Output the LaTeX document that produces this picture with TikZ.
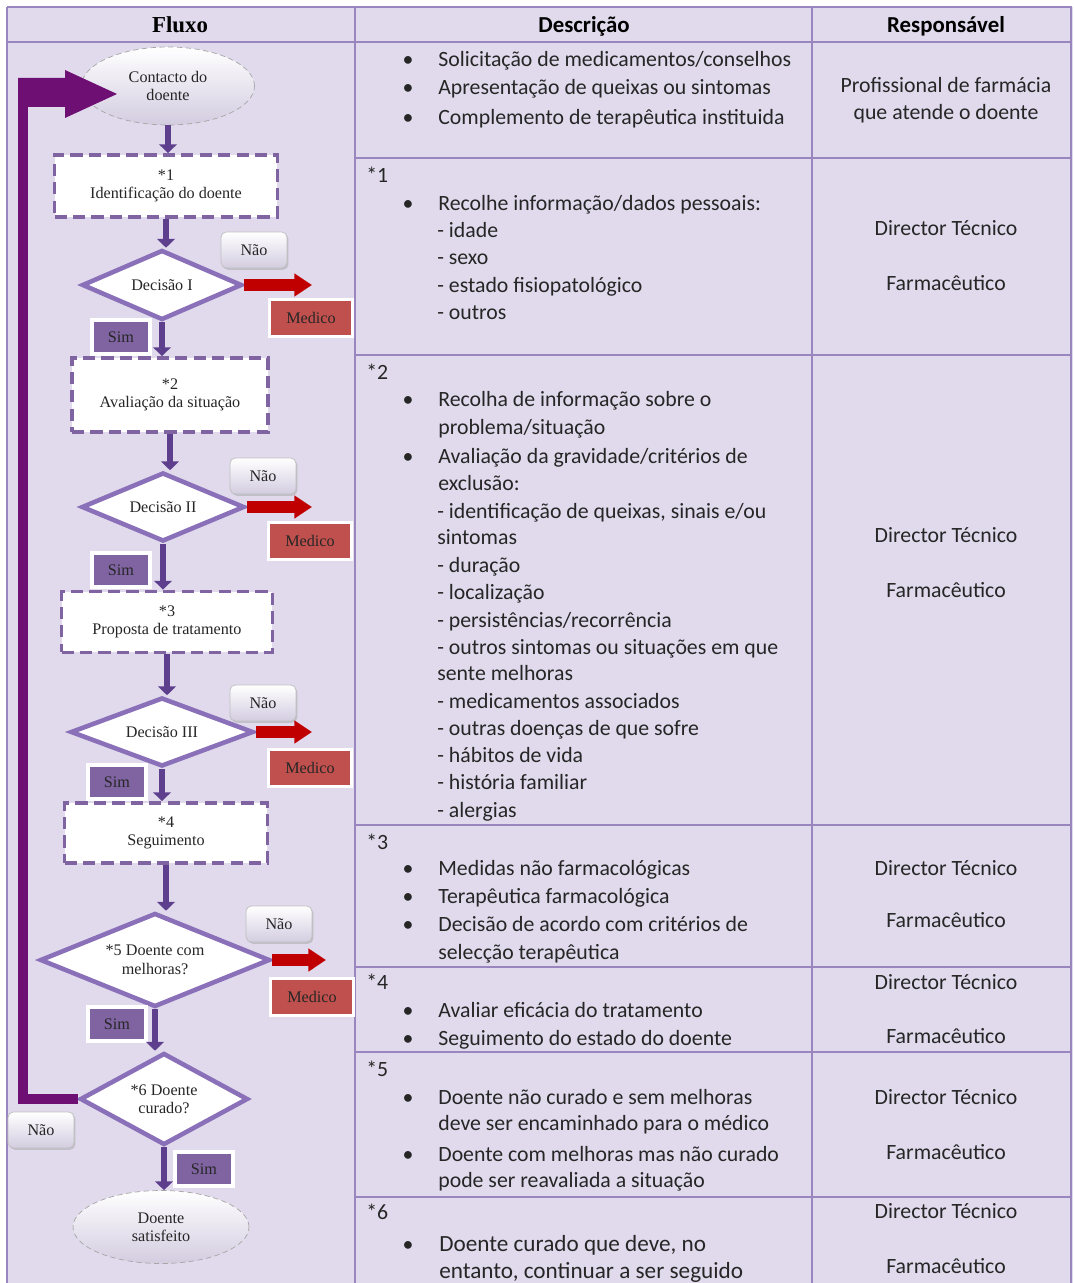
\documentclass[tikz,border=0pt]{standalone}
\usepackage{fontspec}
\setmainfont{Liberation Serif}
\newfontfamily\calib{Carlito}
\usetikzlibrary{shapes.geometric,arrows.meta,shadows}

\definecolor{tablebg}{HTML}{E0DAEC}
\definecolor{gridline}{HTML}{9A86BF}
\definecolor{flowline}{HTML}{8A70B8}
\definecolor{boxline}{HTML}{8064A2}
\definecolor{arrowpurple}{HTML}{5E3F8E}
\definecolor{loopcol}{HTML}{6E0F73}
\definecolor{redarrow}{HTML}{C00000}
\definecolor{medred}{HTML}{C0504D}
\definecolor{simfill}{HTML}{8064A2}
\definecolor{shadebot}{HTML}{D3CCE0}

\begin{document}
\begin{tikzpicture}[x=0.02cm, y=-0.02cm,
    flowtxt/.style={font=\fontsize{9.2}{10.5}\selectfont, align=center, text=black!85},
    desctxt/.style={font=\calib\fontsize{12.4}{14}\selectfont, text=black!85, inner sep=0pt, yshift=-1.2pt},
    startend/.style={ellipse, flowtxt, draw=gray!70, densely dashed, thin, top color=white, bottom color=shadebot},
    stepbox/.style={rectangle, flowtxt, draw=boxline, fill=white, line width=2.2pt, dash pattern=on 7pt off 3.5pt},
    decision/.style={diamond, flowtxt, draw=flowline, fill=white, line width=2.6pt, aspect=2.3, inner sep=1pt},
    naobox/.style={rectangle, flowtxt, rounded corners=3pt, draw=gray!50, top color=white, bottom color=shadebot,
        minimum width=1.32cm, minimum height=0.72cm, drop shadow={shadow xshift=0.8pt, shadow yshift=-1pt, fill=gray!70}},
    simbox/.style={rectangle, flowtxt, fill=simfill, draw=white, line width=2pt,
        minimum width=1.16cm, minimum height=0.68cm, drop shadow={shadow xshift=0.8pt, shadow yshift=-1pt, fill=gray!70}},
    medbox/.style={rectangle, flowtxt, fill=medred, draw=white, line width=2pt,
        minimum width=1.66cm, minimum height=0.74cm, drop shadow={shadow xshift=0.8pt, shadow yshift=-1pt, fill=gray!70}},
    flowarrow/.style={draw=arrowpurple, line width=3.4pt, -{Triangle[length=5pt,width=10pt]}},
    redout/.style={draw=redarrow, line width=6.8pt, -{Triangle[length=10pt,width=12.5pt]}},
    grid/.style={draw=gridline, line width=1.6pt}]
    \useasboundingbox (0,0) rectangle (1073,1283);
    \fill[tablebg] (7,7) rectangle (1073,1283);

    % table
    \draw[grid] (7,7) -- (1071,7) -- (1071,1283);
    \draw[grid] (7,42) -- (1071,42);
    \draw[grid] (7,7) -- (7,1283);
    \draw[grid] (355,7) -- (355,1283);
    \draw[grid] (812,7) -- (812,1283);
    \foreach \y in {158,355,825,967,1052,1197}
        \draw[grid] (355,\y) -- (1071,\y);

    \node[font=\fontsize{13}{15}\selectfont\bfseries] (hflux) at (180,25) {Fluxo};
    \node[font=\calib\fontsize{13}{15}\selectfont\bfseries] (hdesc) at (584,26) {Descrição};
    \node[font=\calib\fontsize{13}{15}\selectfont\bfseries] (hresp) at (946,26) {Responsável};

    \foreach \x/\y/\t in {
        438/60/{Solicitação de medicamentos/conselhos},
        438/88/{Apresentação de queixas ou sintomas},
        438/118/{Complemento de terapêutica instituida},
        366/176/{*1},
        438/204/{Recolhe informação/dados pessoais:},
        437/231/{- idade}, 437/258/{- sexo},
        437/286/{- estado fisiopatológico}, 437/313/{- outros},
        366/373/{*2},
        438/400/{Recolha de informação sobre o},
        438/428/{problema/situação},
        438/457/{Avaliação da gravidade/critérios de},
        438/484/{exclusão:},
        437/512/{- identificação de queixas, sinais e/ou},
        437/538/{sintomas},
        437/566/{- duração}, 437/593/{- localização},
        437/621/{- persistências/recorrência},
        437/648/{- outros sintomas ou situações em que},
        437/674/{sente melhoras},
        437/702/{- medicamentos associados},
        437/729/{- outras doenças de que sofre},
        437/756/{- hábitos de vida}, 437/783/{- história familiar},
        437/811/{- alergias},
        366/843/{*3},
        438/869/{Medidas não farmacológicas},
        438/897/{Terapêutica farmacológica},
        438/925/{Decisão de acordo com critérios de},
        438/953/{selecção terapêutica},
        366/983/{*4},
        438/1011/{Avaliar eficácia do tratamento},
        438/1039/{Seguimento do estado do doente},
        366/1070/{*5},
        438/1098/{Doente não curado e sem melhoras},
        438/1124/{deve ser encaminhado para o médico},
        438/1155/{Doente com melhoras mas não curado},
        438/1181/{pode ser reavaliada a situação},
        366/1213/{*6}}
        \node[desctxt, anchor=mid west] (dsc-\y) at (\x,\y) {\t};
    \node[desctxt, font=\calib\fontsize{13.2}{15}\selectfont, anchor=mid west] (dsc-1245) at (439,1245) {Doente curado que deve, no};
    \node[desctxt, font=\calib\fontsize{13.2}{15}\selectfont, anchor=mid west] (dsc-1272) at (439,1272) {entanto, continuar a ser seguido};

    \foreach \y in {60,88,118,204,400,457,869,897,925,1011,1039,1098,1155,1245}
        \node[desctxt, anchor=mid] (bul-\y) at (408,\y) {\textbullet};

    \foreach \y/\t in {86/{Profissional de farmácia}, 113/{que atende o doente},
        229/{Director Técnico}, 284/Farmacêutico,
        536/{Director Técnico}, 591/Farmacêutico,
        869/{Director Técnico}, 921/Farmacêutico,
        983/{Director Técnico}, 1037/Farmacêutico,
        1098/{Director Técnico}, 1153/Farmacêutico,
        1212/{Director Técnico}, 1267/Farmacêutico}
        \node[desctxt, anchor=mid] (rsp-\y) at (946,\y) {\t};

    % flow
    \node[startend, minimum width=3.46cm, minimum height=1.56cm] (contact) at (168,86) {Contacto do\\doente};
    \node[stepbox, minimum width=4.46cm, minimum height=1.24cm] (ident) at (166,186) {*1\\Identificação do doente};
    \node[decision, minimum width=3.2cm, minimum height=1.4cm] (dec1) at (162,285) {Decisão I};
    \node[stepbox, minimum width=3.92cm, minimum height=1.48cm] (aval) at (170,395) {*2\\Avaliação da situação};
    \node[decision, minimum width=3.26cm, minimum height=1.38cm] (dec2) at (163,507) {Decisão II};
    \node[stepbox, minimum width=4.22cm, minimum height=1.22cm] (prop) at (167,622) {*3\\Proposta de tratamento};
    \node[decision, minimum width=3.66cm, minimum height=1.38cm] (dec3) at (162,732) {Decisão III};
    \node[stepbox, minimum width=4.06cm, minimum height=1.2cm] (segui) at (166,833) {*4\\Seguimento};
    \node[decision, minimum width=4.6cm, minimum height=1.88cm] (dec5) at (155,960) {*5 Doente com\\melhoras?};
    \node[decision, minimum width=3.36cm, minimum height=1.84cm] (dec6) at (164,1099) {*6 Doente\\curado?};
    \node[startend, minimum width=3.52cm, minimum height=1.46cm] (satisf) at (161,1227) {Doente\\satisfeito};

    \node[naobox] (nao1) at (254,250) {Não};
    \node[naobox] (nao2) at (263,476) {Não};
    \node[naobox] (nao3) at (263,703) {Não};
    \node[naobox] (nao5) at (279,924) {Não};
    \node[naobox] (nao6) at (41,1130) {Não};

    \node[medbox] (med1) at (311,318) {Medico};
    \node[medbox] (med2) at (310,541) {Medico};
    \node[medbox] (med3) at (310,768) {Medico};
    \node[medbox] (med5) at (312,997) {Medico};

    \node[simbox] (sim1) at (121,337) {Sim};
    \node[simbox] (sim2) at (121,570) {Sim};
    \node[simbox] (sim3) at (117,782) {Sim};
    \node[simbox] (sim5) at (117,1024) {Sim};
    \node[simbox] (sim6) at (204,1169) {Sim};

    \foreach \a/\b in {contact/ident, ident/dec1, dec1/aval, aval/dec2, dec2/prop,
        prop/dec3, dec3/segui, segui/dec5, dec5/dec6, dec6/satisf}
        \draw[flowarrow] (\a.south) -- (\a.south |- \b.north);

    \coordinate (out1) at (312,285);
    \coordinate (out2) at (312,507);
    \coordinate (out3) at (312,732);
    \coordinate (out5) at (326,960);
    \draw[redout] (dec1.east) -- (out1);
    \draw[redout] (dec2.east) -- (out2);
    \draw[redout] (dec3.east) -- (out3);
    \draw[redout] (dec5.east) -- (out5);

    % back to the start
    \coordinate (loopbot) at (23,1099);
    \coordinate (looptop) at (23,92);
    \draw[loopcol, line width=5.7pt] (dec6.west) -- (loopbot) -- (looptop);
    \fill[loopcol] (18,78) -- (65,78) -- (65,70) -- (117,94) -- (65,118) -- (65,107) -- (18,107) -- cycle;
\end{tikzpicture}
\end{document}
